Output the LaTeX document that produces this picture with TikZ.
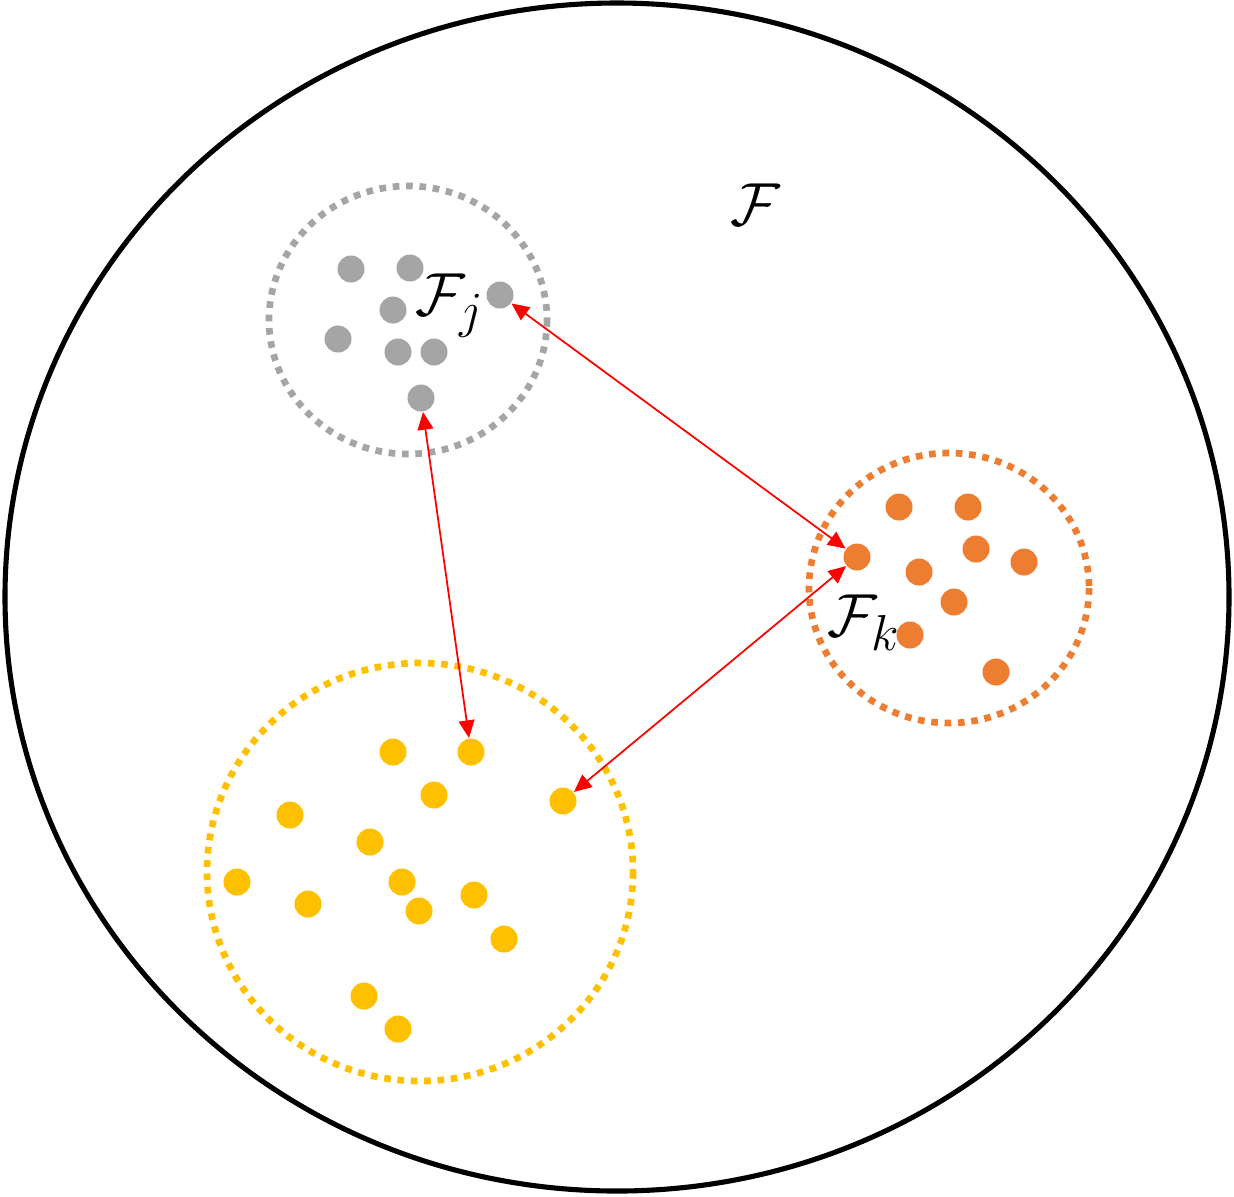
\documentclass[tikz,border=0pt]{standalone}
\usetikzlibrary{arrows.meta}
\definecolor{dgray}{HTML}{A5A5A5}
\definecolor{dorange}{HTML}{ED7D31}
\definecolor{dyellow}{HTML}{FFC000}
\newcommand{\subidx}[1]{\mbox{\fontsize{15}{15}\selectfont$#1$}}
\begin{document}
\begin{tikzpicture}[x=0.01cm,y=-0.01cm,
  dot/.style={circle,inner sep=0pt,minimum size=0.27cm,fill=#1,draw=none},
  grp/.style={draw=#1,line width=1.9pt,dash pattern=on 1.9pt off 1.9pt},
  link/.style={red,line width=0.5pt,{Triangle[length=5pt,width=4.5pt]}-{Triangle[length=5pt,width=4.5pt]}},
  lab/.style={inner sep=0pt,font=\fontsize{19}{21}\selectfont}]
\useasboundingbox (0,0) rectangle (1234,1196);
\draw[line width=1.45pt] (617,597) ellipse [x radius=612, y radius=594];
\draw[grp=dgray] (408,320) ellipse [x radius=139, y radius=134];
\draw[grp=dorange] (949,588) ellipse [x radius=140, y radius=135];
\draw[grp=dyellow] (420,872) ellipse [x radius=213, y radius=209];
% gray
\node[dot=dgray] (g1) at (351,269) {};
\node[dot=dgray] (g2) at (410,268) {};
\node[dot=dgray] (g3) at (393,310) {};
\node[dot=dgray] (g4) at (338,339) {};
\node[dot=dgray] (g5) at (398,352) {};
\node[dot=dgray] (g6) at (434,352) {};
\node[dot=dgray] (g7) at (500,295) {};
\node[dot=dgray] (g8) at (421,398) {};
% orange
\node[dot=dorange] (o1) at (899,507) {};
\node[dot=dorange] (o2) at (968,507) {};
\node[dot=dorange] (o3) at (976,549) {};
\node[dot=dorange] (o4) at (1024,562) {};
\node[dot=dorange] (o5) at (857,557) {};
\node[dot=dorange] (o6) at (919,572) {};
\node[dot=dorange] (o7) at (954,602) {};
\node[dot=dorange] (o8) at (910,635) {};
\node[dot=dorange] (o9) at (996,672) {};
% yellow
\node[dot=dyellow] (y1) at (393,752) {};
\node[dot=dyellow] (y2) at (471,752) {};
\node[dot=dyellow] (y3) at (434,795) {};
\node[dot=dyellow] (y4) at (563,801) {};
\node[dot=dyellow] (y5) at (290,815) {};
\node[dot=dyellow] (y6) at (370,842) {};
\node[dot=dyellow] (y7) at (237,882) {};
\node[dot=dyellow] (y8) at (402,882) {};
\node[dot=dyellow] (y9) at (474,895) {};
\node[dot=dyellow] (y10) at (308,904) {};
\node[dot=dyellow] (y11) at (419,911) {};
\node[dot=dyellow] (y12) at (504,939) {};
\node[dot=dyellow] (y13) at (364,996) {};
\node[dot=dyellow] (y14) at (398,1029) {};
% labels
\node[lab] (lF) at (755,205) {$\mathcal{F}$};
\node[lab] (lFj) at (450,306) {$\mathcal{F}_{\subidx{j}}$};
\node[lab] (lFk) at (864,623) {$\mathcal{F}_{\subidx{k}}$};
% links
\draw[link] (g7) -- (o5);
\draw[link] (g8) -- (y2);
\draw[link] (o5) -- (y4);
\end{tikzpicture}
\end{document}
